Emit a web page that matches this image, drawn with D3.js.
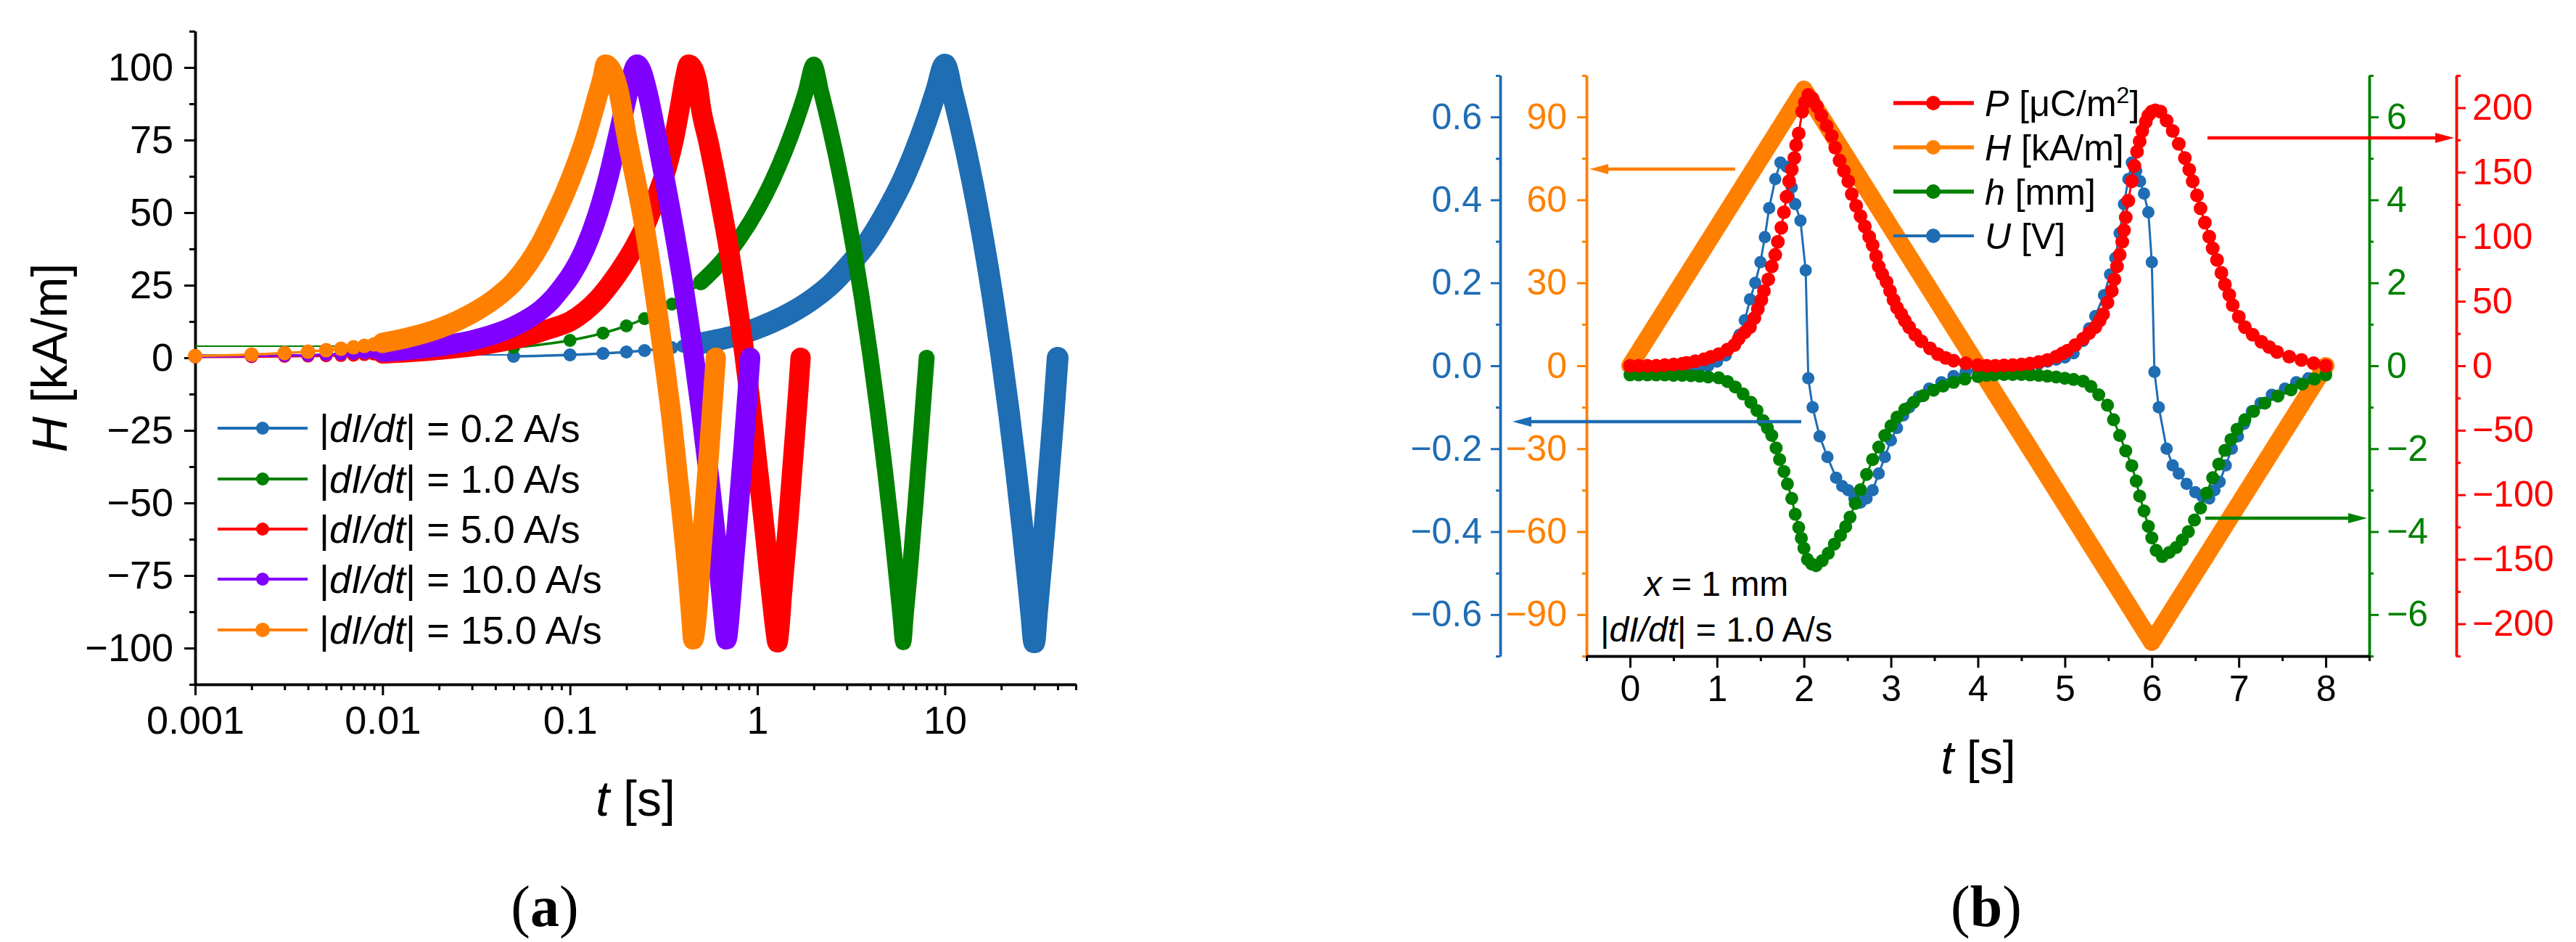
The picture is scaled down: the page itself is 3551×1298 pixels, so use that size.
<!DOCTYPE html>
<html><head><meta charset="utf-8">
<script src="https://cdn.jsdelivr.net/npm/d3@7"></script>
<style>
html,body{margin:0;padding:0;background:#fff;}
svg{display:block;}
text{font-family:"Liberation Sans",Arial,sans-serif;}
</style></head>
<body><svg id="c" width="3551" height="1298"></svg>
<script>
// ================= DATA : panel (a) =================
const ratesA = ["0.2", "1.0", "5.0", "10.0", "15.0"];
const xTickLabelsA = ["0.001", "0.01", "0.1", "1", "10"];
const xTickValuesA = [0.001, 0.01, 0.1, 1, 10];
const yTickValuesA = [-100, -75, -50, -25, 0, 25, 50, 75, 100];

const tA02 = [0.05,0.1,0.15,0.2,0.25,0.3,0.35,0.4,0.45,0.5,0.6,0.7,0.8,1,1.2,1.5,2,2.5,3,4,5,6,7,8,9,10,11,12,14,16,18,20,22,24,26,28,29,30,31,32,34,36,38,40];
const hA02 = [0.5,1,1.5,2,2.5,3,3.5,4,4.5,5,6,7,8,10.2,12.3,15.4,20.5,25.6,31,41,51.5,61.5,71.8,82,92,101,91,81,61,41,21,1,-19,-39,-59,-79,-89,-98,-88,-78,-59,-39,-20,0];

const tA1 = [0.05,0.1,0.15,0.2,0.25,0.3,0.35,0.4,0.5,0.6,0.7,0.8,1,1.2,1.4,1.6,1.8,2,2.2,2.4,2.6,2.8,3,3.3,3.6,4,4.4,4.8,5.2,5.6,5.8,6,6.2,6.5,7,7.5,8];
const hA1 = [3.5,6,8.5,11,13.5,16,18.5,21,26,31,36,41,51,61,71,81,91,101,91,81,71,61,51,36,21,1,-19,-39,-59,-79,-89,-98,-88,-74,-49,-24,0];

const tA5 = [0.001,0.002,0.003,0.004,0.005,0.006,0.007,0.008,0.009,0.01,0.015,0.02,0.03,0.04,0.05,0.06,0.07,0.08,0.1,0.12,0.14,0.16,0.18,0.2,0.22,0.25,0.28,0.3,0.33,0.36,0.39,0.41,0.43,0.45,0.48,0.5,0.55,0.6,0.65,0.7,0.75,0.8,0.85,0.9,0.95,1,1.05,1.1,1.15,1.2,1.25,1.28,1.31,1.35,1.4,1.45,1.5,1.55,1.6,1.65,1.7];
const hA5 = [0.3,0.4,0.5,0.6,0.7,0.8,0.9,1.1,1.3,1.5,2.1,2.8,4,5.2,6.4,7.7,9,10.2,12.5,16,20,24.5,29,33.5,38,45,53,58,66,76,88,96,101,100,94,86,74,62,50,38.5,26,14,2,-11,-24,-37,-49,-61,-73,-84,-94,-98,-93,-82,-70,-59,-47,-35,-23.5,-12,0];

const tA10 = [0.001,0.002,0.003,0.004,0.005,0.006,0.007,0.008,0.009,0.01,0.015,0.02,0.03,0.04,0.05,0.06,0.07,0.08,0.09,0.1,0.12,0.14,0.16,0.18,0.2,0.21,0.228,0.24,0.26,0.3,0.35,0.4,0.45,0.5,0.55,0.6,0.64,0.66,0.685,0.7,0.72,0.75,0.8,0.85,0.9,0.915];
const hA10 = [0.4,0.6,0.8,0.9,1.1,1.3,1.5,1.7,1.9,2.1,3,4,6,8.3,10.8,13.5,16.5,20,24,28,37.5,49,62,76,89,95,101,99,91,71,48,26,4,-18,-40,-62,-80,-89,-97,-93,-84,-70,-49,-28,-6.5,0];

const tA15 = [0.001,0.002,0.003,0.004,0.005,0.006,0.007,0.008,0.009,0.01,0.015,0.02,0.025,0.03,0.04,0.05,0.06,0.07,0.08,0.09,0.1,0.11,0.12,0.13,0.14,0.15,0.155,0.165,0.18,0.2,0.25,0.3,0.35,0.4,0.43,0.445,0.455,0.465,0.48,0.5,0.55,0.6];
const hA15 = [0.6,1.1,1.6,2.1,2.6,3.1,3.6,4.1,4.6,5.1,7.6,10.1,12.7,15.3,20.5,26,32.5,39.5,47,54,61,68,75,82.5,90,97,101,99.5,93,77,45,11,-22,-57,-78,-90,-97,-94,-85,-68,-34,0];

// ================= DATA : panel (b) =================
const xTickValuesB = [0,1,2,3,4,5,6,7,8];
const ticksU = [-0.6,-0.4,-0.2,0,0.2,0.4,0.6];
const ticksH = [-90,-60,-30,0,30,60,90];
const ticksh = [-6,-4,-2,0,2,4,6];
const ticksP = [-200,-150,-100,-50,0,50,100,150,200];

const tP = [0,0.1,0.2,0.3,0.4,0.5,0.6,0.65,0.75,0.85,0.93,1.02,1.12,1.2,1.25,1.32,1.38,1.43,1.47,1.51,1.54,1.59,1.63,1.67,1.7,1.74,1.77,1.8,1.83,1.86,1.89,1.91,1.94,1.98,2.01,2.05,2.1,2.15,2.2,2.26,2.32,2.36,2.41,2.46,2.51,2.55,2.6,2.65,2.7,2.75,2.79,2.83,2.86,2.9,2.95,2.99,3.03,3.07,3.12,3.16,3.21,3.28,3.35,3.45,3.54,3.63,3.72,3.86,4.0,4.1,4.2,4.3,4.4,4.5,4.6,4.7,4.8,4.9,4.97,5.03,5.12,5.21,5.28,5.35,5.4,5.44,5.49,5.54,5.57,5.6,5.63,5.66,5.68,5.7,5.73,5.77,5.8,5.83,5.86,5.89,5.93,5.96,6.0,6.04,6.1,6.17,6.24,6.31,6.38,6.43,6.47,6.52,6.56,6.61,6.66,6.7,6.75,6.8,6.84,6.89,6.93,7.0,7.07,7.16,7.26,7.35,7.44,7.58,7.72,7.86,8.0];
const vP = [0,0,0,0,0.5,1,1.5,2.2,3.5,5,6.9,9,12.5,16,21,26,30,37,44,51,58,67,77,86,96,107,119,131,143,152,161,171,180,197,204,210,207,201,194,186,178,169,159,151,143,133,124,116,108,100,93.5,85,77,71,65,58,51,45,40,35,30,24,19,13.5,9,6,4,2,0.5,0,0,0.3,0.5,1,1.7,3,4.5,7,9.5,11.7,16,21,25.5,30,35,40,49,58,67,77,86,96,105,115,128,143,155,166,174,182,189,194,197,198,197,190,182,172,161,152,143,132,122,111,100,91,82,72,63,55,47,38,30,24,18.6,14.5,10.7,7,4.5,2,0];

const tH = [0,0.5,1,1.5,2,2.5,3,3.5,4,4.5,5,5.5,6,6.5,7,7.5,8];
const vH = [0,25,50,75,100,75,50,25,0,-25,-50,-75,-100,-75,-50,-25,0];

const th = [0,0.1,0.2,0.3,0.4,0.5,0.6,0.7,0.8,0.9,1.02,1.12,1.21,1.3,1.39,1.46,1.53,1.58,1.63,1.68,1.72,1.77,1.81,1.86,1.9,1.94,1.97,2.0,2.04,2.09,2.14,2.21,2.28,2.35,2.42,2.48,2.53,2.59,2.65,2.72,2.79,2.86,2.93,3.0,3.07,3.16,3.26,3.37,3.49,3.6,3.72,3.85,4.0,4.1,4.19,4.3,4.4,4.5,4.6,4.7,4.8,4.9,5.0,5.1,5.21,5.3,5.39,5.49,5.56,5.63,5.7,5.77,5.82,5.86,5.91,5.96,6.0,6.05,6.12,6.2,6.28,6.35,6.42,6.49,6.56,6.63,6.7,6.77,6.84,6.91,6.98,7.07,7.17,7.3,7.45,7.6,7.73,7.87,8.0];
const vh = [-0.22,-0.22,-0.22,-0.22,-0.22,-0.23,-0.23,-0.24,-0.25,-0.27,-0.29,-0.38,-0.51,-0.68,-0.88,-1.08,-1.32,-1.5,-1.68,-1.98,-2.26,-2.55,-2.85,-3.2,-3.58,-3.9,-4.16,-4.4,-4.67,-4.78,-4.82,-4.7,-4.52,-4.3,-4.09,-3.88,-3.65,-3.32,-2.99,-2.62,-2.26,-1.96,-1.68,-1.45,-1.24,-1.05,-0.88,-0.72,-0.59,-0.49,-0.4,-0.32,-0.26,-0.23,-0.22,-0.21,-0.21,-0.21,-0.22,-0.23,-0.25,-0.27,-0.3,-0.33,-0.37,-0.5,-0.7,-0.95,-1.3,-1.68,-2.05,-2.41,-2.78,-3.14,-3.5,-3.87,-4.15,-4.45,-4.6,-4.5,-4.38,-4.2,-4.0,-3.72,-3.43,-3.07,-2.7,-2.37,-2.04,-1.78,-1.53,-1.3,-1.1,-0.9,-0.73,-0.58,-0.44,-0.32,-0.22];

const tU = [0,0.1,0.2,0.3,0.4,0.5,0.6,0.7,0.8,0.9,1.0,1.1,1.2,1.26,1.32,1.38,1.44,1.5,1.55,1.6,1.67,1.73,1.8,1.86,1.9,1.96,2.02,2.05,2.1,2.18,2.27,2.37,2.44,2.51,2.58,2.65,2.72,2.79,2.86,2.93,3.0,3.07,3.14,3.21,3.32,3.44,3.58,3.72,3.86,4.0,4.1,4.2,4.3,4.4,4.5,4.6,4.7,4.8,4.9,5.0,5.1,5.21,5.28,5.35,5.45,5.52,5.58,5.63,5.68,5.73,5.77,5.82,5.865,5.91,5.96,6.0,6.03,6.08,6.17,6.24,6.31,6.4,6.5,6.58,6.66,6.72,6.78,6.85,6.92,6.99,7.06,7.15,7.25,7.38,7.53,7.66,7.8,8.0];
const vU = [-0.02,-0.02,-0.02,-0.02,-0.015,-0.015,-0.01,-0.01,-0.005,0,0.01,0.025,0.05,0.075,0.11,0.16,0.2,0.25,0.31,0.38,0.45,0.49,0.48,0.43,0.39,0.35,0.23,-0.03,-0.1,-0.17,-0.22,-0.27,-0.29,-0.3,-0.32,-0.33,-0.32,-0.3,-0.26,-0.22,-0.18,-0.15,-0.12,-0.1,-0.075,-0.055,-0.04,-0.025,-0.015,-0.01,-0.01,-0.005,-0.005,0,0,0,0.005,0.01,0.015,0.02,0.03,0.06,0.09,0.12,0.17,0.22,0.26,0.32,0.39,0.45,0.49,0.47,0.445,0.415,0.37,0.25,-0.015,-0.1,-0.2,-0.24,-0.26,-0.285,-0.305,-0.315,-0.32,-0.3,-0.28,-0.24,-0.2,-0.17,-0.14,-0.11,-0.09,-0.07,-0.055,-0.04,-0.03,-0.02];

// ================= STYLE =================
const C_BLUE = "#1f6db3", C_GREEN = "#008000", C_RED = "#ff0000", C_PURPLE = "#8000ff", C_ORANGE = "#ff8000";
const colorsA = [C_BLUE, C_GREEN, C_RED, C_PURPLE, C_ORANGE];
const bandStartA = [0.45, 0.45, 0.01, 0.01, 0.01];
const bandWidthA = [30, 22, 28, 28, 28];
const markerRA = [9, 9, 9, 9, 10];
const FONT = "'Liberation Sans', Arial, sans-serif";

const svg = d3.select("#c");

function styleAxis(g, color, fs) {
  g.attr("font-family", null).attr("font-size", null);
  g.select(".domain").attr("stroke", color).attr("stroke-width", 3.5);
  g.selectAll(".tick line").attr("stroke", color).attr("stroke-width", 3);
  g.selectAll(".tick text").attr("fill", color).style("font-size", fs + "px").style("font-family", FONT);
}

// ================= PANEL (a) =================
const gA = svg.append("g");
const xA = d3.scaleLog().domain([0.001, 50]).range([269, 1483]);
const yA = d3.scaleLinear().domain([-112.5, 112.5]).range([943, 43]);

const xMinorA = [];
[0.001, 0.01, 0.1, 1].forEach(d => { for (let k = 2; k <= 9; k++) xMinorA.push(d * k); });
[20, 30, 40, 50].forEach(v => xMinorA.push(v));
const yMinorA = d3.range(-112.5, 113, 12.5).filter(v => Math.abs(v % 25) > 1e-9);

gA.append("g").attr("transform", "translate(0,943)")
  .call(d3.axisBottom(xA).tickValues(xMinorA).tickFormat("").tickSize(8).tickSizeOuter(0))
  .call(g => styleAxis(g, "#000", 54));
gA.append("g").attr("transform", "translate(0,943)")
  .call(d3.axisBottom(xA).tickValues(xTickValuesA).tickFormat((d, i) => xTickLabelsA[i]).tickSize(15).tickSizeOuter(0).tickPadding(15))
  .call(g => styleAxis(g, "#000", 54));
gA.append("g").attr("transform", "translate(269,0)")
  .call(d3.axisLeft(yA).tickValues(yMinorA).tickFormat("").tickSize(8).tickSizeOuter(0))
  .call(g => styleAxis(g, "#000", 54));
gA.append("g").attr("transform", "translate(269,0)")
  .call(d3.axisLeft(yA).tickValues(yTickValuesA).tickFormat(d3.format("d")).tickSize(15).tickSizeOuter(0).tickPadding(15))
  .call(g => styleAxis(g, "#000", 54));

const lineA = d3.line().x(d => xA(d[0])).y(d => yA(d[1])).curve(d3.curveMonotoneX);
const seriesA = [[tA02, hA02], [tA1, hA1], [tA5, hA5], [tA10, hA10], [tA15, hA15]];
seriesA.forEach(([ts, hs], i) => {
  const pts = ts.map((t, k) => [t, hs[k]]);
  const c = colorsA[i];
  const g = gA.append("g");
  if (ts[0] > xA.domain()[0]) {
    g.append("line").attr("x1", xA.range()[0]).attr("x2", xA(ts[0]))
      .attr("y1", yA(hs[0]) - 2).attr("y2", yA(hs[0]) - 2).attr("stroke", c).attr("stroke-width", 2);
  }
  g.append("path").datum(pts).attr("d", lineA).attr("fill", "none").attr("stroke", c).attr("stroke-width", 3.5);
  const bp = pts.filter(p => p[0] >= bandStartA[i]);
  g.append("path").datum(bp).attr("d", lineA).attr("fill", "none").attr("stroke", c)
    .attr("stroke-width", bandWidthA[i]).attr("stroke-linejoin", "round").attr("stroke-linecap", "round");
  g.selectAll("circle").data(pts.filter(p => p[0] < bandStartA[i])).join("circle")
    .attr("cx", d => xA(d[0])).attr("cy", d => yA(d[1])).attr("r", markerRA[i]).attr("fill", c);
});

// legend (a)
const legRowsA = [590, 660, 729, 798, 868];
ratesA.forEach((r, i) => {
  const y = legRowsA[i], c = colorsA[i];
  gA.append("line").attr("x1", 300).attr("x2", 424).attr("y1", y).attr("y2", y).attr("stroke", c).attr("stroke-width", 4);
  gA.append("circle").attr("cx", 362).attr("cy", y).attr("r", i === 4 ? 10 : 9).attr("fill", c);
  const t = gA.append("text").attr("x", 440).attr("y", y + 19).style("font-size", "54px").attr("fill", "#000");
  t.append("tspan").text("|");
  t.append("tspan").attr("font-style", "italic").text("dI/dt");
  t.append("tspan").text("| = " + r + " A/s");
});

// axis titles (a)
const ytA = gA.append("text").attr("transform", "translate(92,493) rotate(-90)").attr("text-anchor", "middle").style("font-size", "68px");
ytA.append("tspan").attr("font-style", "italic").text("H");
ytA.append("tspan").text(" [kA/m]");
const xtA = gA.append("text").attr("x", 876).attr("y", 1124).attr("text-anchor", "middle").style("font-size", "68px");
xtA.append("tspan").attr("font-style", "italic").text("t");
xtA.append("tspan").text(" [s]");
const capA = gA.append("text").attr("x", 751).attr("y", 1276).attr("text-anchor", "middle").style("font-size", "80px").style("font-family", "'Liberation Serif','Times New Roman',serif");
capA.append("tspan").text("(");
capA.append("tspan").attr("font-weight", "bold").text("a");
capA.append("tspan").text(")");

// ================= PANEL (b) =================
const gB = svg.append("g");
const xB = d3.scaleLinear().domain([-0.5, 8.5]).range([2187, 3266]);
const yTop = 104, yBot = 904;
const yU = d3.scaleLinear().domain([-0.7, 0.7]).range([yBot, yTop]);
const yH = d3.scaleLinear().domain([-105, 105]).range([yBot, yTop]);
const yh = d3.scaleLinear().domain([-7, 7]).range([yBot, yTop]);
const yP = d3.scaleLinear().domain([-225, 225]).range([yBot, yTop]);

function vAxis(scale, x, side, majors, step, fmt, color, pad) {
  const [lo, hi] = scale.domain();
  const minors = d3.range(lo, hi + step / 1000, step / 2).filter(v => !majors.some(m => Math.abs(m - v) < step / 100));
  const mk = side === "left" ? d3.axisLeft : d3.axisRight;
  gB.append("g").attr("transform", `translate(${x},0)`)
    .call(mk(scale).tickValues(minors).tickFormat("").tickSize(6).tickSizeOuter(0))
    .call(g => styleAxis(g, color, 50));
  gB.append("g").attr("transform", `translate(${x},0)`)
    .call(mk(scale).tickValues(majors).tickFormat(fmt).tickSize(13).tickSizeOuter(0).tickPadding(pad))
    .call(g => styleAxis(g, color, 50));
}
vAxis(yU, 2068, "left", ticksU, 0.2, d3.format(".1f"), C_BLUE, 12);
vAxis(yH, 2187, "left", ticksH, 30, d3.format("d"), C_ORANGE, 14);
vAxis(yh, 3266, "right", ticksh, 2, d3.format("d"), C_GREEN, 11);
vAxis(yP, 3386, "right", ticksP, 50, d3.format("d"), C_RED, 9);

const xMinorB = d3.range(-0.5, 8.6, 1);
gB.append("g").attr("transform", `translate(0,${yBot})`)
  .call(d3.axisBottom(xB).tickValues(xMinorB).tickFormat("").tickSize(7).tickSizeOuter(0))
  .call(g => styleAxis(g, "#000", 50));
gB.append("g").attr("transform", `translate(0,${yBot})`)
  .call(d3.axisBottom(xB).tickValues(xTickValuesB).tickFormat(d3.format("d")).tickSize(16).tickSizeOuter(0).tickPadding(10))
  .call(g => styleAxis(g, "#000", 50));

// series (b)
const zip = (a, b) => a.map((t, k) => [t, b[k]]);
const ptsH = zip(tH, vH), ptsU = zip(tU, vU), ptsh = zip(th, vh), ptsP = zip(tP, vP);
gB.append("path").datum(ptsH).attr("d", d3.line().x(d => xB(d[0])).y(d => yH(d[1])))
  .attr("fill", "none").attr("stroke", C_ORANGE).attr("stroke-width", 24).attr("stroke-linejoin", "round").attr("stroke-linecap", "round");

function markerSeries(pts, ys, color, r) {
  const g = gB.append("g");
  g.append("path").datum(pts).attr("d", d3.line().x(d => xB(d[0])).y(d => ys(d[1])))
    .attr("fill", "none").attr("stroke", color).attr("stroke-width", 3);
  g.selectAll("circle").data(pts).join("circle")
    .attr("cx", d => xB(d[0])).attr("cy", d => ys(d[1])).attr("r", r).attr("fill", color);
}
markerSeries(ptsU, yU, C_BLUE, 8.5);
markerSeries(ptsh, yh, C_GREEN, 9);
markerSeries(ptsP, yP, C_RED, 9.5);

// arrows (b)
function arrow(x1, x2, y, color) {
  const dir = Math.sign(x2 - x1);
  gB.append("line").attr("x1", x1).attr("x2", x2 - dir * 20).attr("y1", y).attr("y2", y).attr("stroke", color).attr("stroke-width", 4.5);
  gB.append("path").attr("d", `M${x2},${y} L${x2 - dir * 26},${y - 7} L${x2 - dir * 26},${y + 7} Z`).attr("fill", color);
}
arrow(2392, 2191, 233, C_ORANGE);
arrow(2483, 2085, 581, C_BLUE);
arrow(3043, 3383, 190, C_RED);
arrow(3040, 3263, 714, C_GREEN);

// legend (b)
const legB = [
  {c: C_RED, sym: "P", unit: " [μC/m", sup: "2", end: "]", w: 5.5},
  {c: C_ORANGE, sym: "H", unit: " [kA/m]", w: 5.5},
  {c: C_GREEN, sym: "h", unit: " [mm]", w: 5.5},
  {c: C_BLUE, sym: "U", unit: " [V]", w: 4}
];
const legRowsB = [142, 203, 264, 325];
legB.forEach((d, i) => {
  const y = legRowsB[i];
  gB.append("line").attr("x1", 2610).attr("x2", 2721).attr("y1", y).attr("y2", y).attr("stroke", d.c).attr("stroke-width", d.w);
  gB.append("circle").attr("cx", 2665).attr("cy", y).attr("r", 10).attr("fill", d.c);
  const t = gB.append("text").attr("x", 2736).attr("y", y + 18).style("font-size", "50px");
  t.append("tspan").attr("font-style", "italic").text(d.sym);
  t.append("tspan").text(d.unit);
  if (d.sup) {
    t.append("tspan").attr("dy", -18).style("font-size", "32px").text(d.sup);
    t.append("tspan").attr("dy", 18).text(d.end);
  }
});

// annotation (b)
const an1 = gB.append("text").attr("x", 2366).attr("y", 821).attr("text-anchor", "middle").style("font-size", "48px");
an1.append("tspan").attr("font-style", "italic").text("x");
an1.append("tspan").text(" = 1 mm");
const an2 = gB.append("text").attr("x", 2366).attr("y", 884).attr("text-anchor", "middle").style("font-size", "48px");
an2.append("tspan").text("|");
an2.append("tspan").attr("font-style", "italic").text("dI/dt");
an2.append("tspan").text("| = 1.0 A/s");

const xtB = gB.append("text").attr("x", 2727).attr("y", 1066).attr("text-anchor", "middle").style("font-size", "64px");
xtB.append("tspan").attr("font-style", "italic").text("t");
xtB.append("tspan").text(" [s]");
const capB = gB.append("text").attr("x", 2738).attr("y", 1276).attr("text-anchor", "middle").style("font-size", "80px").style("font-family", "'Liberation Serif','Times New Roman',serif");
capB.append("tspan").text("(");
capB.append("tspan").attr("font-weight", "bold").text("b");
capB.append("tspan").text(")");
</script>
</body></html>
